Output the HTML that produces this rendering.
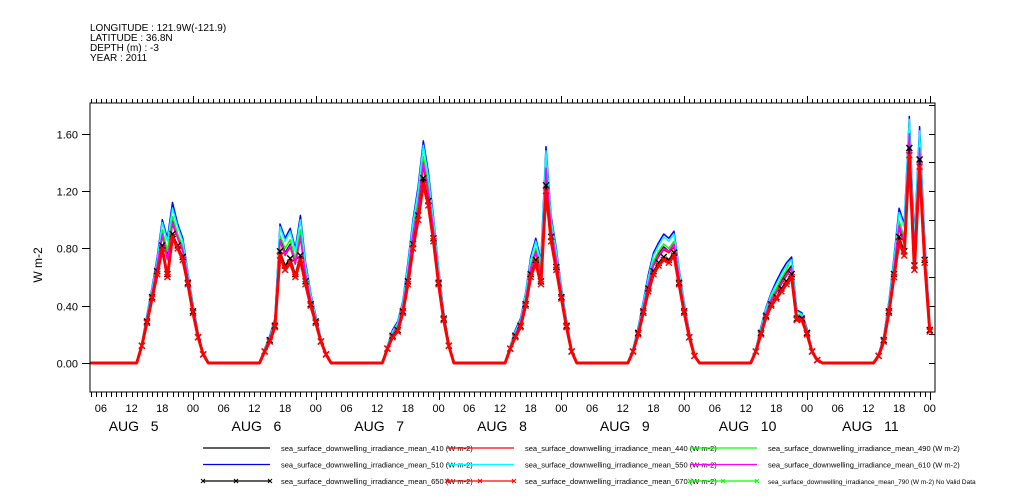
<!DOCTYPE html>
<html><head><meta charset="utf-8"><style>
body{margin:0;background:#fff;}
svg{display:block;font-family:"Liberation Sans",sans-serif;}
</style></head><body>
<svg id="chart" width="1009" height="504" viewBox="0 0 1009 504">
<g font-size="10" fill="#000">
<text x="90" y="31">LONGITUDE : 121.9W(-121.9)</text>
<text x="90" y="41">LATITUDE : 36.8N</text>
<text x="90" y="51">DEPTH (m) : -3</text>
<text x="90" y="61">YEAR : 2011</text>
</g>
<text x="42" y="265" font-size="12" text-anchor="middle" transform="rotate(-90 42 265)">W m-2</text>
<g id="axes"></g>
<g id="series"></g>
<g id="legend"></g>
</svg>
<script>
const hours = [4,
13,14,15,16,17,18,19,20,21,22,23,24,25,26,27,
37,38,39,40,41,42,43,44,45,46,47,48,49,50,51,
61,62,63,64,65,66,67,68,69,70,71,72,73,74,75,
85,86,87,88,89,90,91,92,93,94,95,96,97,98,99,
109,110,111,112,113,114,115,116,117,118,119,120,121,122,123,
133,134,135,136,137,138,139,140,141,142,143,144,145,146,147,
157,158,159,160,161,162,163,164,165,166,167,168];
const s670 = [0,
0,0.12,0.28,0.45,0.62,0.80,0.60,0.88,0.80,0.72,0.55,0.35,0.18,0.06,0,
0,0.08,0.15,0.25,0.75,0.65,0.70,0.60,0.72,0.55,0.40,0.28,0.15,0.06,0,
0,0.10,0.18,0.22,0.35,0.55,0.80,1.00,1.25,1.10,0.85,0.55,0.30,0.12,0,
0,0.10,0.18,0.25,0.40,0.60,0.70,0.55,1.20,0.85,0.65,0.45,0.25,0.08,0,
0,0.08,0.20,0.35,0.50,0.62,0.68,0.72,0.70,0.75,0.55,0.35,0.18,0.05,0,
0,0.08,0.20,0.32,0.40,0.45,0.50,0.55,0.60,0.30,0.30,0.20,0.08,0.02,0,
0,0.05,0.15,0.35,0.60,0.85,0.75,1.45,0.65,1.37,0.70,0.22];
const s650 = [0,
0,0.12,0.29,0.46,0.64,0.82,0.62,0.90,0.82,0.74,0.56,0.36,0.18,0.06,0,
0,0.08,0.16,0.26,0.78,0.68,0.73,0.62,0.75,0.57,0.41,0.29,0.15,0.06,0,
0,0.10,0.19,0.23,0.36,0.57,0.83,1.03,1.29,1.13,0.87,0.56,0.31,0.12,0,
0,0.10,0.19,0.26,0.41,0.62,0.72,0.57,1.24,0.88,0.67,0.46,0.26,0.08,0,
0,0.08,0.21,0.36,0.52,0.64,0.70,0.74,0.72,0.77,0.56,0.36,0.18,0.05,0,
0,0.08,0.21,0.33,0.41,0.46,0.52,0.57,0.62,0.31,0.31,0.21,0.08,0.02,0,
0,0.05,0.16,0.36,0.62,0.88,0.78,1.50,0.68,1.42,0.72,0.23];
const s610 = [0,
0,0.13,0.30,0.49,0.68,0.90,0.72,0.98,0.88,0.79,0.59,0.38,0.19,0.07,0,
0,0.09,0.17,0.28,0.86,0.76,0.82,0.70,0.88,0.62,0.44,0.30,0.16,0.07,0,
0,0.11,0.20,0.25,0.39,0.62,0.90,1.10,1.40,1.20,0.93,0.60,0.33,0.13,0,
0,0.11,0.20,0.28,0.44,0.66,0.78,0.63,1.36,0.93,0.72,0.49,0.27,0.09,0,
0,0.09,0.22,0.39,0.55,0.69,0.75,0.80,0.78,0.83,0.60,0.38,0.20,0.06,0,
0,0.09,0.22,0.35,0.44,0.50,0.56,0.62,0.66,0.33,0.32,0.22,0.09,0.02,0,
0,0.06,0.17,0.39,0.66,0.96,0.85,1.60,0.76,1.50,0.78,0.25];
const s550 = [0,
0,0.14,0.32,0.52,0.72,0.98,0.85,1.08,0.95,0.85,0.62,0.40,0.20,0.07,0,
0,0.10,0.18,0.30,0.95,0.85,0.92,0.78,1.00,0.68,0.48,0.32,0.17,0.07,0,
0,0.12,0.22,0.28,0.42,0.68,0.98,1.20,1.52,1.30,1.00,0.65,0.35,0.14,0,
0,0.12,0.22,0.30,0.48,0.72,0.85,0.70,1.48,1.00,0.78,0.52,0.29,0.10,0,
0,0.10,0.24,0.42,0.60,0.75,0.82,0.88,0.85,0.90,0.65,0.41,0.21,0.06,0,
0,0.10,0.24,0.38,0.48,0.55,0.62,0.68,0.72,0.36,0.34,0.23,0.09,0.02,0,
0,0.06,0.18,0.42,0.72,1.05,0.95,1.70,0.85,1.62,0.85,0.27];
const s510 = [0,
0,0.14,0.33,0.53,0.74,1.00,0.87,1.12,0.97,0.87,0.63,0.41,0.21,0.07,0,
0,0.10,0.19,0.31,0.97,0.87,0.94,0.80,1.03,0.70,0.49,0.33,0.17,0.07,0,
0,0.12,0.23,0.29,0.43,0.70,1.00,1.23,1.55,1.33,1.02,0.66,0.36,0.14,0,
0,0.12,0.23,0.31,0.49,0.74,0.87,0.72,1.51,1.02,0.80,0.53,0.30,0.10,0,
0,0.10,0.25,0.43,0.62,0.77,0.84,0.90,0.87,0.92,0.66,0.42,0.22,0.06,0,
0,0.10,0.25,0.39,0.49,0.57,0.64,0.70,0.74,0.37,0.35,0.24,0.09,0.02,0,
0,0.06,0.19,0.43,0.74,1.08,0.97,1.72,0.87,1.65,0.87,0.28];
const s490 = [0,
0,0.13,0.31,0.50,0.70,0.93,0.78,1.02,0.90,0.81,0.60,0.39,0.19,0.07,0,
0,0.09,0.17,0.29,0.89,0.80,0.86,0.73,0.93,0.64,0.45,0.31,0.16,0.07,0,
0,0.11,0.21,0.26,0.40,0.64,0.93,1.13,1.44,1.24,0.95,0.62,0.34,0.13,0,
0,0.11,0.21,0.29,0.45,0.68,0.80,0.66,1.40,0.95,0.74,0.50,0.28,0.09,0,
0,0.09,0.23,0.40,0.57,0.71,0.78,0.83,0.80,0.85,0.62,0.39,0.20,0.06,0,
0,0.09,0.23,0.36,0.46,0.52,0.59,0.65,0.74,0.34,0.33,0.22,0.09,0.02,0,
0,0.06,0.17,0.40,0.68,0.99,0.88,1.62,0.79,1.54,0.80,0.26];
const s440 = [0,
0,0.13,0.30,0.48,0.67,0.89,0.72,0.97,0.87,0.78,0.58,0.37,0.19,0.07,0,
0,0.09,0.17,0.27,0.85,0.75,0.81,0.69,0.87,0.61,0.43,0.30,0.16,0.07,0,
0,0.11,0.20,0.25,0.38,0.61,0.88,1.08,1.37,1.18,0.91,0.59,0.32,0.13,0,
0,0.11,0.20,0.28,0.43,0.65,0.77,0.62,1.33,0.91,0.70,0.48,0.27,0.09,0,
0,0.09,0.22,0.38,0.54,0.68,0.74,0.79,0.77,0.81,0.59,0.37,0.19,0.06,0,
0,0.09,0.22,0.34,0.43,0.49,0.55,0.61,0.66,0.32,0.32,0.21,0.08,0.02,0,
0,0.06,0.17,0.38,0.65,0.94,0.83,1.56,0.74,1.48,0.77,0.25];
const s410 = [0,
0,0.13,0.31,0.49,0.68,0.91,0.75,0.99,0.88,0.79,0.59,0.38,0.19,0.07,0,
0,0.09,0.17,0.28,0.87,0.77,0.83,0.71,0.90,0.62,0.44,0.30,0.16,0.07,0,
0,0.11,0.21,0.26,0.39,0.63,0.90,1.10,1.40,1.20,0.93,0.60,0.33,0.13,0,
0,0.11,0.21,0.28,0.44,0.66,0.78,0.64,1.36,0.93,0.72,0.49,0.27,0.09,0,
0,0.09,0.22,0.39,0.55,0.69,0.76,0.81,0.78,0.83,0.60,0.38,0.20,0.06,0,
0,0.09,0.22,0.35,0.44,0.50,0.57,0.63,0.68,0.33,0.32,0.22,0.09,0.02,0,
0,0.06,0.17,0.39,0.66,0.96,0.85,1.58,0.76,1.50,0.78,0.25];
const yTicks = [0,0.4,0.8,1.2,1.6];
const yTickLabels = ["0.00","0.40","0.80","1.20","1.60"];
const dayLabels = ["AUG  5","AUG  6","AUG  7","AUG  8","AUG  9","AUG  10","AUG  11"];

const NS="http://www.w3.org/2000/svg";
const L=90,R=935,T=103,B=392;
function xS(h){return 193+(h-24)*122.8/24;}
function yS(v){return 363-v*143.3;}
function mk(tag,attrs,parent){const e=document.createElementNS(NS,tag);for(const k in attrs)e.setAttribute(k,attrs[k]);parent.appendChild(e);return e;}
const axes=document.getElementById('axes');
let e;
e=mk('rect',{x:L,y:T,width:R-L,height:B-T,fill:'none',stroke:'#000','stroke-width':1},axes);


for(let h=4;h<=168;h++){
  const x=Math.round(xS(h))+0.5; if(x>R) break;
  const major=(h%24===0);
  e=mk('line',{x1:x,x2:x,y1:T,y2:T-(major?7:4),stroke:'#000'},axes);
  
  
  e=mk('line',{x1:x,x2:x,y1:B,y2:B+(major?8:5),stroke:'#000'},axes);
  
  
  if(h%6===0){
    const lbl=String(h%24).padStart(2,'0');
    e=mk('text',{x:xS(h),y:412,'font-size':11,'text-anchor':'middle'},axes);
    e.textContent=lbl;
    
    
  }
}
dayLabels.forEach((d,i)=>{
  e=mk('text',{x:xS(i*24+12)+2,y:431,'font-size':14,'text-anchor':'middle'},axes);
  e.textContent=d.replace('  ','\u00a0\u00a0\u00a0');
  
  
});
yTicks.forEach((v,i)=>{
  const y=Math.round(yS(v))+0.5;
  e=mk('line',{x1:L-8,x2:L,y1:y,y2:y,stroke:'#000'},axes);
  
  
  e=mk('text',{x:L-12,y:y+4,'font-size':11,'text-anchor':'end'},axes);
  e.textContent=yTickLabels[i];
  
  
});
for(let v=0;v<=1.8;v+=0.2){
  const y=Math.round(yS(v))+0.5; if(y<T) break;
  e=mk('line',{x1:R-6,x2:R,y1:y,y2:y,stroke:'#000'},axes);
  
  
}
const seriesG=document.getElementById('series');
const series=[
 {name:'410',d:s410,c:'#000',m:false},
 {name:'440',d:s440,c:'#f00',m:false},
 {name:'490',d:s490,c:'#0f0',m:false},
 {name:'510',d:s510,c:'#00f',m:false},
 {name:'550',d:s550,c:'#0ff',m:false},
 {name:'610',d:s610,c:'#f0f',m:false},
 {name:'650',d:s650,c:'#000',m:true},
 {name:'670',d:s670,c:'#f00',m:true}];
series.forEach(s=>{
  const pts=s.d.map((v,i)=>xS(hours[i]).toFixed(1)+','+yS(v).toFixed(1)).join(' ');
  e=mk('polyline',{points:pts,fill:'none',stroke:s.c,'stroke-width':s.name==='670'?3:1.5,'stroke-linejoin':'round'},seriesG);
  
  
  if(s.m){
    s.d.forEach((v,i)=>{
      if(v<=0) return;
      const x=xS(hours[i]),y=yS(v);
      e=mk('path',{d:`M${x-3},${y-3}L${x+3},${y+3}M${x-3},${y+3}L${x+3},${y-3}`,stroke:s.c,'stroke-width':1.4},seriesG);
      
      
    });
  }
});
const leg=document.getElementById('legend');
const legItems=[
 ['410','#000',false],['440','#f00',false],['490','#0f0',false],
 ['510','#00f',false],['550','#0ff',false],['610','#f0f',false],
 ['650','#000',true],['670','#f00',true],['790','#0f0',true]];
const colX=[203,447,690];
legItems.forEach((it,i)=>{
  const cx=colX[i%3], y=448+Math.floor(i/3)*16.5;
  e=mk('line',{x1:cx,x2:cx+67,y1:y,y2:y,stroke:it[1],'stroke-width':1.2},leg);
  
  
  if(it[2]){[0,33,67].forEach(dx=>{
    const x=cx+dx;
    e=mk('path',{d:`M${x-2},${y-2}L${x+2},${y+2}M${x-2},${y+2}L${x+2},${y-2}`,stroke:it[1]},leg);
    
    
  });}
  e=mk('text',{x:cx+78,y:y+3,'font-size':i===8?6.5:7.5},leg);
  e.textContent='sea_surface_downwelling_irradiance_mean_'+it[0]+' (W m-2)'+(i===8?' No Valid Data':'');
  
  
});
</script>
</body></html>
